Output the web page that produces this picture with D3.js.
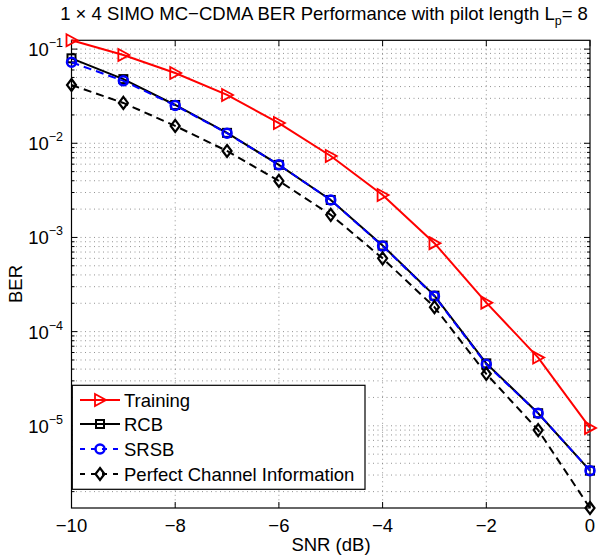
<!DOCTYPE html>
<html><head><meta charset="utf-8">
<script src="https://cdn.jsdelivr.net/npm/d3@7"></script>
<style>body{margin:0;background:#fff}svg{font-family:"Liberation Sans",Arial,sans-serif}</style>
</head><body><svg id="c" width="600" height="556"></svg>
<script>
const snr = [-10,-9,-8,-7,-6,-5,-4,-3,-2,-1,0];
const training = [0.124,0.0865,0.0557,0.0326,0.0164,0.00733,0.00282,8.7e-4,2.03e-4,5.3e-5,9.5e-6];
const rcb = [0.0798,0.048,0.0255,0.0129,0.0059,0.0025,8.2e-4,2.41e-4,4.6e-5,1.36e-5,3.34e-6];
const srsb = [0.0724,0.046,0.0252,0.0128,0.0059,0.0025,8.1e-4,2.38e-4,4.5e-5,1.36e-5,3.34e-6];
const perfect = [0.0416,0.0268,0.0153,0.00828,0.00398,0.00174,6.0e-4,1.82e-4,3.56e-5,9.0e-6,1.34e-6];
const xTicks = [-10,-8,-6,-4,-2,0];
const yTickExps = [-1,-2,-3,-4,-5];
const seriesNames = ["Training","RCB","SRSB","Perfect Channel Information"];

const FS = 18.5;
const svg = d3.select("#c");
const L=71.5,R=590,T=40.3,B=508;
const x = d3.scaleLinear().domain([-10,0]).range([L,R]);
const y = d3.scaleLog().domain([1.34e-6,0.124]).range([B,T]);

// grid
const g = svg.append("g");
const minor = [];
for (let e=-6;e<=-1;e++) for (let m=1;m<10;m++){const v=m*Math.pow(10,e); if(v>=1.34e-6&&v<=0.124) minor.push(v);}
g.selectAll("line.hg").data(minor).join("line")
 .attr("x1",L).attr("x2",R).attr("y1",d=>y(d)).attr("y2",d=>y(d))
 .attr("stroke","#777").attr("stroke-width",0.8).attr("stroke-dasharray","1,3.5");
g.selectAll("line.vg").data(xTicks.slice(1,-1)).join("line")
 .attr("y1",T).attr("y2",B).attr("x1",d=>x(d)).attr("x2",d=>x(d))
 .attr("stroke","#777").attr("stroke-width",0.8).attr("stroke-dasharray","1,3.5");

// ticks inside
const tk = svg.append("g").attr("stroke","#000").attr("stroke-width",1);
minor.forEach(v=>{
  const isMaj = Math.abs(Math.log10(v)-Math.round(Math.log10(v)))<1e-9;
  const len = isMaj?6:3;
  tk.append("line").attr("x1",L).attr("x2",L+len).attr("y1",y(v)).attr("y2",y(v));
  tk.append("line").attr("x1",R).attr("x2",R-len).attr("y1",y(v)).attr("y2",y(v));
});
xTicks.forEach(v=>{
  tk.append("line").attr("x1",x(v)).attr("x2",x(v)).attr("y1",B).attr("y2",B-6);
  tk.append("line").attr("x1",x(v)).attr("x2",x(v)).attr("y1",T).attr("y2",T+6);
});
svg.append("rect").attr("x",L).attr("y",T).attr("width",R-L).attr("height",B-T)
 .attr("fill","none").attr("stroke","#000").attr("stroke-width",1.2);

// tick labels
xTicks.forEach(v=>{
  svg.append("text").attr("x",x(v)).attr("y",532).attr("text-anchor","middle")
   .attr("font-size",FS).text(v<0?"\u2212"+Math.abs(v):String(v));
});
yTickExps.forEach(e=>{
  const t = svg.append("text").attr("x",63).attr("y",y(Math.pow(10,e))+7).attr("text-anchor","end").attr("font-size",FS);
  t.append("tspan").text("10");
  t.append("tspan").attr("dy",-9).attr("font-size",12.5).text("\u2212"+Math.abs(e));
});
svg.append("text").attr("x",331).attr("y",551).attr("text-anchor","middle").attr("font-size",FS).text("SNR (dB)");
svg.append("text").attr("transform","translate(22,284) rotate(-90)").attr("text-anchor","middle").attr("font-size",FS).text("BER");
const title = svg.append("text").attr("x",324).attr("y",20).attr("text-anchor","middle").attr("font-size",FS);
title.append("tspan").text("1 \u00d7 4 SIMO MC\u2212CDMA BER Performance with pilot length L");
title.append("tspan").attr("dy",5).attr("font-size",12.5).text("p");
title.append("tspan").attr("dy",-5).text("= 8");

// series
const line = d3.line().x((d,i)=>x(snr[i])).y(d=>y(d));
const styles = [
 {data:training,color:"#ff0000",dash:null,marker:"tri"},
 {data:rcb,color:"#000",dash:null,marker:"sq"},
 {data:srsb,color:"#0000ff",dash:"8,5",marker:"circ"},
 {data:perfect,color:"#000",dash:"8,5",marker:"dia"}
];
function marker(sel,type,color,cx,cy){
  if(type==="tri") sel.append("path").attr("d",`M${cx-5},${cy-6}L${cx+6},${cy}L${cx-5},${cy+6}Z`).attr("fill","none").attr("stroke",color).attr("stroke-width",1.8);
  if(type==="sq") sel.append("rect").attr("x",cx-4).attr("y",cy-4).attr("width",8).attr("height",8).attr("fill","none").attr("stroke",color).attr("stroke-width",2);
  if(type==="circ") sel.append("circle").attr("cx",cx).attr("cy",cy).attr("r",4.5).attr("fill","none").attr("stroke",color).attr("stroke-width",2.5);
  if(type==="dia") sel.append("path").attr("d",`M${cx},${cy-6}L${cx+4.5},${cy}L${cx},${cy+6}L${cx-4.5},${cy}Z`).attr("fill","none").attr("stroke",color).attr("stroke-width",2.2);
}
const sg = svg.append("g");
styles.forEach(s=>{
  sg.append("path").attr("d",line(s.data)).attr("fill","none").attr("stroke",s.color).attr("stroke-width",2)
   .attr("stroke-dasharray",s.dash);
  s.data.forEach((v,i)=>marker(sg,s.marker,s.color,x(snr[i]),y(v)));
});

// legend
const lg = svg.append("g");
lg.append("rect").attr("x",72.3).attr("y",385.3).attr("width",292.7).attr("height",104).attr("fill","#fff").attr("stroke","#000").attr("stroke-width",1.2);
const ly=[400,424,449,474];
styles.forEach((s,i)=>{
  lg.append("line").attr("x1",80).attr("x2",120).attr("y1",ly[i]).attr("y2",ly[i]).attr("stroke",s.color).attr("stroke-width",2).attr("stroke-dasharray",s.dash?"5,6":null);
  marker(lg,s.marker,s.color,100,ly[i]);
  lg.append("text").attr("x",124).attr("y",ly[i]+6.5).attr("font-size",FS).text(seriesNames[i]);
});
</script></body></html>
